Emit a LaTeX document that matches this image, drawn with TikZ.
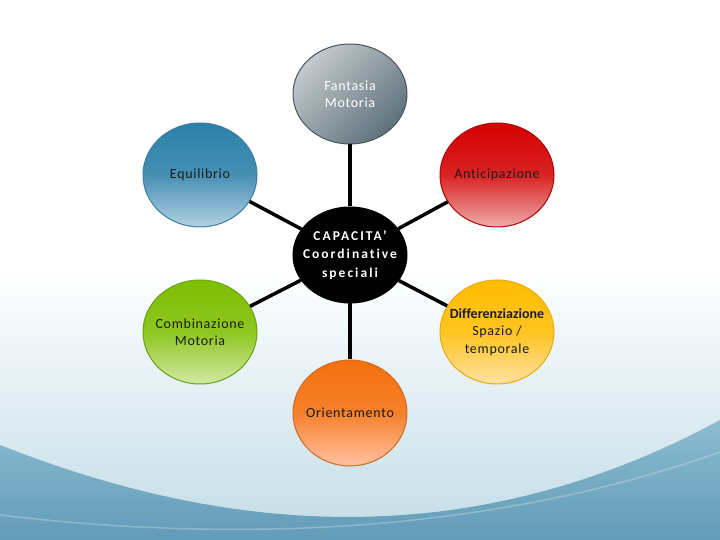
\documentclass[tikz,border=0pt]{standalone}
\usepackage{fontspec}
\setmainfont{Carlito}[LetterSpace=5, Ligatures=NoCommon]
\newfontfamily\plainfont{Carlito}[Ligatures=NoCommon]
\newfontfamily\spacedfont{Carlito}[LetterSpace=15, Ligatures=NoCommon]
\usepackage{xcolor}
\usetikzlibrary{positioning,shapes.geometric}

\definecolor{skyPale}{HTML}{C2DCE7}
\definecolor{skyMid}{HTML}{8CBCD0}
\definecolor{skyDeep}{HTML}{5E99B5}
\definecolor{inkDark}{HTML}{1C1C1C}
\definecolor{fantLight}{HTML}{C4CACD}
\definecolor{fantDark}{HTML}{5E717C}
\definecolor{fantLine}{HTML}{46555E}
\definecolor{equiTop}{HTML}{2B80A9}
\definecolor{equiBot}{HTML}{B3D0E2}
\definecolor{equiLine}{HTML}{3A7FA2}
\definecolor{antiTop}{HTML}{D50000}
\definecolor{antiBot}{HTML}{EEABAB}
\definecolor{antiLine}{HTML}{A80808}
\definecolor{combTop}{HTML}{7DBE00}
\definecolor{combBot}{HTML}{D2E8A4}
\definecolor{combLine}{HTML}{6AA310}
\definecolor{diffTop}{HTML}{FFBD00}
\definecolor{diffBot}{HTML}{FFE1A2}
\definecolor{diffLine}{HTML}{E9A90C}
\definecolor{orieTop}{HTML}{F4700E}
\definecolor{orieBot}{HTML}{FFC2A2}
\definecolor{orieLine}{HTML}{D06A24}

\begin{document}
\begin{tikzpicture}[x=1pt, y=1pt,
    bubble/.style={ellipse, draw, line width=1pt, minimum width=114pt, minimum height=104pt,
        inner sep=-14pt, align=center, font=\fontsize{14}{17.5}\selectfont, text=inkDark},
    link/.style={line width=3.5pt, black}
]
    % background sweep
    \useasboundingbox (0,0) rectangle (720,540);
    \fill[white] (0,0) rectangle (720,540);
    \shade[top color=white, bottom color=skyPale] (0,0) rectangle (720,270);
    \shade[top color=skyMid, bottom color=skyDeep] (0,95) .. controls (240,0) and (480,-10) .. (720,120)
        -- (720,0) -- (0,0) -- cycle;
    \draw[white, opacity=0.25, line width=1.5pt] (720,88) .. controls (500,10) and (250,-5) .. (0,25);

    \node[bubble, fill=black, draw=black, minimum height=96pt, text=white,
        font=\spacedfont\bfseries\fontsize{13.5}{18.5}\selectfont] (core) at (350,285) {CAPACITA’\\Coordinative\\speciali};
    \node[bubble, above=62pt of core, minimum height=100pt, draw=fantLine, text=white,
        top color=fantLight, bottom color=fantDark, shading angle=45] (fant) {Fantasia\\Motoria};
    \node[bubble, below=56pt of core, minimum height=106pt, draw=orieLine,
        top color=orieTop, bottom color=orieBot, middle color=orieTop!80!orieBot] (orie) {Orientamento};
    \node[bubble, draw=equiLine, top color=equiTop, bottom color=equiBot,
        middle color=equiTop!80!equiBot] (equi) at (200,365) {Equilibrio};
    \node[bubble, draw=antiLine, top color=antiTop, bottom color=antiBot,
        middle color=antiTop!80!antiBot] (anti) at (497,365) {Anticipazione};
    \node[bubble, draw=combLine, top color=combTop, bottom color=combBot,
        middle color=combTop!80!combBot] (comb) at (200,208) {Combinazione\\Motoria};
    \node[bubble, draw=diffLine, top color=diffTop, bottom color=diffBot,
        middle color=diffTop!80!diffBot] (diff) at (497,208) {{\plainfont\bfseries Differenziazione}\\Spazio /\\temporale};

    \draw[link] (core) -- (fant);
    \draw[link] (core) -- (equi);
    \draw[link] (core) -- (anti);
    \draw[link] (core) -- (comb);
    \draw[link] (core) -- (diff);
    \draw[link] (core) -- (orie);
\end{tikzpicture}
\end{document}
